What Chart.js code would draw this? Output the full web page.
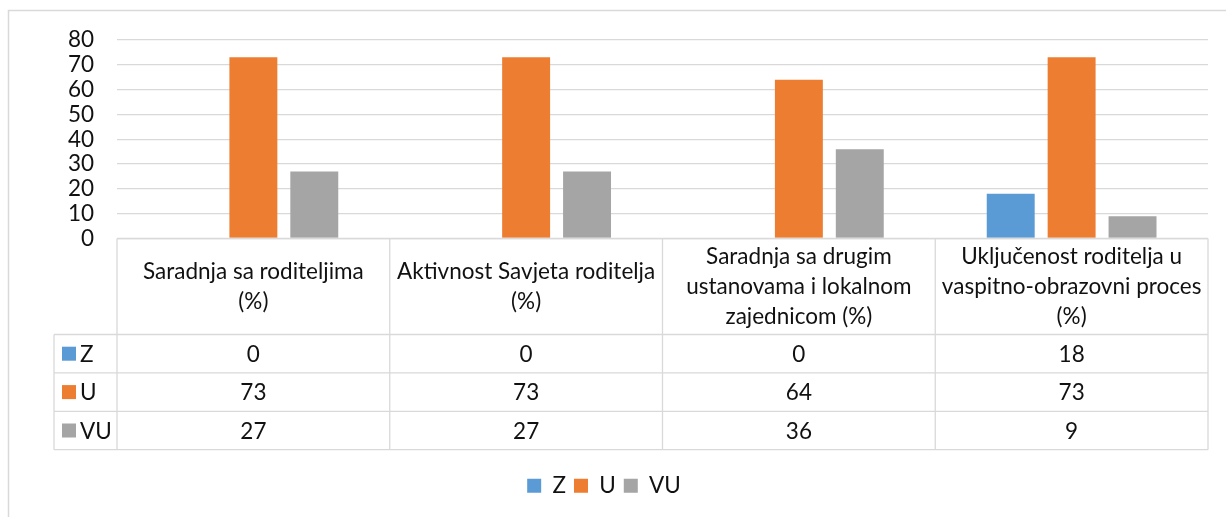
<!DOCTYPE html>
<html lang="sr">
<head>
<meta charset="UTF-8" />
<title>Saradnja sa roditeljima</title>
<script src="https://cdn.jsdelivr.net/npm/chart.js"></script>
<style>
  html, body { margin: 0; padding: 0; background: #fff; }
  #wrap { width: 1226px; height: 517px; }
</style>
</head>
<body>
<div id="wrap"><canvas id="chart" width="1226" height="517"></canvas></div>
<script>
// categories, wrapped like in the original table header
const categories = [
  ["Saradnja sa roditeljima", "(%)"],
  ["Aktivnost Savjeta roditelja", "(%)"],
  ["Saradnja sa drugim", "ustanovama i lokalnom", "zajednicom (%)"],
  ["Uključenost roditelja u", "vaspitno-obrazovni proces", "(%)"]
];
const seriesNames = ["Z", "U", "VU"];
const zValues = [0, 0, 0, 18];
const uValues = [73, 73, 64, 73];
const vuValues = [27, 27, 36, 9];
const yMin = 0, yMax = 80, yStep = 10;

const colors = ["#5B9BD5", "#ED7D31", "#A5A5A5"];
const lineColor = "#d9d9d9";
const textColor = "#111";
const fontFamily = "Lato, 'Open Sans', sans-serif";
const fontSize = 22.5;

// draws the frame and the data table under the plot
const dataTable = {
  id: "dataTable",
  beforeDraw(chart) {
    const ctx = chart.ctx;
    ctx.save();
    ctx.fillStyle = "#fff";
    ctx.fillRect(0, 0, chart.width, chart.height);
    ctx.strokeStyle = lineColor;
    ctx.lineWidth = 1.5;
    ctx.beginPath();
    ctx.moveTo(8.5, chart.height);
    ctx.lineTo(8.5, 10.5);
    ctx.lineTo(chart.width, 10.5);
    ctx.stroke();
    ctx.restore();
  },
  afterDraw(chart) {
    const ctx = chart.ctx;
    const area = chart.chartArea;
    const labels = chart.scales.x.getLabels();
    const n = labels.length;
    const colW = (area.right - area.left) / n;
    const top = area.bottom;
    const headH = 96;
    const rowH = 38.4;
    const keyLeft = 54;
    const rows = chart.data.datasets;
    const bottom = top + headH + rowH * rows.length;

    ctx.save();
    ctx.strokeStyle = lineColor;
    ctx.lineWidth = 1.3;
    ctx.beginPath();
    // header top and column lines
    ctx.moveTo(area.left, top);
    ctx.lineTo(area.right, top);
    for (let i = 0; i <= n; i++) {
      const x = area.left + i * colW;
      ctx.moveTo(x, top);
      ctx.lineTo(x, bottom);
    }
    // row lines incl. the legend-key column
    for (let r = 0; r <= rows.length; r++) {
      const y = top + headH + r * rowH;
      ctx.moveTo(keyLeft, y);
      ctx.lineTo(area.right, y);
    }
    ctx.moveTo(keyLeft, top + headH);
    ctx.lineTo(keyLeft, bottom);
    ctx.stroke();

    ctx.fillStyle = textColor;
    ctx.font = fontSize + "px " + fontFamily;
    ctx.textAlign = "center";
    ctx.textBaseline = "middle";
    const lineH = 30;
    labels.forEach((lab, i) => {
      const lines = Array.isArray(lab) ? lab : [lab];
      const cx = area.left + (i + 0.5) * colW;
      const cy = top + headH / 2;
      lines.forEach((t, k) => {
        ctx.fillText(t, cx, cy + (k - (lines.length - 1) / 2) * lineH);
      });
    });

    rows.forEach((ds, r) => {
      const cy = top + headH + (r + 0.5) * rowH;
      ctx.fillStyle = ds.backgroundColor;
      ctx.fillRect(62, cy - 7, 14, 14);
      ctx.fillStyle = textColor;
      ctx.textAlign = "left";
      ctx.fillText(ds.label, 80, cy + 1);
      ctx.textAlign = "center";
      ds.data.forEach((v, i) => {
        ctx.fillText(String(v), area.left + (i + 0.5) * colW, cy + 1);
      });
    });
    ctx.restore();
  }
};

const ctx = document.getElementById("chart").getContext("2d");
new Chart(ctx, {
  type: "bar",
  data: {
    labels: categories,
    datasets: [
      { label: seriesNames[0], data: zValues, backgroundColor: colors[0] },
      { label: seriesNames[1], data: uValues, backgroundColor: colors[1] },
      { label: seriesNames[2], data: vuValues, backgroundColor: colors[2] }
    ]
  },
  options: {
    responsive: false,
    animation: false,
    categoryPercentage: 0.67,
    barPercentage: 0.787,
    layout: { padding: { top: 40, right: 18, bottom: 10, left: 0 } },
    scales: {
      x: {
        grid: { display: false },
        border: { display: false },
        ticks: { display: false },
        afterFit(scale) { scale.height = 228; }
      },
      y: {
        min: yMin,
        max: yMax,
        ticks: {
          stepSize: yStep,
          autoSkip: false,
          padding: 23,
          color: textColor,
          font: { family: fontFamily, size: fontSize }
        },
        grid: { color: lineColor, lineWidth: 1.3, drawTicks: false },
        border: { display: false },
        afterFit(scale) { scale.width = 117; }
      }
    },
    plugins: {
      tooltip: { enabled: false },
      legend: {
        position: "bottom",
        labels: {
          boxWidth: 14,
          boxHeight: 14,
          padding: 8,
          color: textColor,
          font: { family: fontFamily, size: fontSize }
        }
      }
    }
  },
  plugins: [dataTable]
});
</script>
</body>
</html>
